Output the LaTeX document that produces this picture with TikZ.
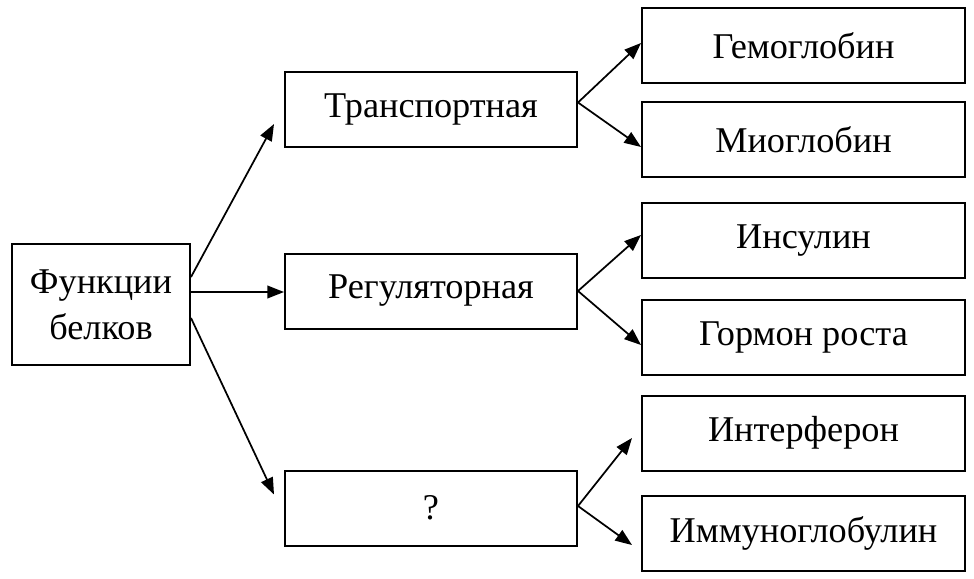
\documentclass[tikz,border=0pt]{standalone}
\usepackage{fontspec}
\setmainfont{Liberation Serif}
\usetikzlibrary{arrows.meta}
\begin{document}
\begin{tikzpicture}[x=0.75pt,y=-0.75pt,
  box/.style={draw,line width=1.5pt,rectangle,inner sep=0pt,font=\fontsize{27.2}{34.5}\selectfont},
  leftbox/.style={box,minimum width=133.5pt,minimum height=90.75pt,align=center},
  midbox/.style={box,minimum width=219pt,minimum height=56.25pt},
  rightbox/.style={box,minimum width=242.25pt,minimum height=56.25pt},
  arr/.style={line width=1.3pt,-{Triangle[length=12.5pt,width=9.5pt]}}]
\useasboundingbox (0,0) rectangle (974,578);
\node[leftbox] (L) at (101,304.5) {Функции\\белков};
\node[midbox] (T) at (431,109.5) {Транспортная};
\node[midbox] (R) at (431,291) {Регуляторная};
\node[midbox] (Q) at (431,508) {?};
\node[rightbox] (G) at (803.5,45.5) {Гемоглобин};
\node[rightbox] (M) at (803.5,139.5) {Миоглобин};
\node[rightbox] (I) at (803.5,240.5) {Инсулин};
\node[rightbox] (H) at (803.5,337) {Гормон роста};
\node[rightbox] (F) at (803.5,433) {Интерферон};
\node[rightbox] (U) at (803.5,533.5) {Иммуноглобулин};
\draw[arr] ([shift={(0,-27.5)}]L.east) -- ([shift={(-10,-24)}]T.south west);
\draw[arr] ([shift={(0,-12.5)}]L.east) -- ([shift={(0,1)}]R.west);
\draw[arr] ([shift={(0,13.5)}]L.east) -- ([shift={(-10,25)}]Q.north west);
\draw[arr] ([shift={(0,-7)}]T.east) -- ([shift={(0,-2.5)}]G.west);
\draw[arr] ([shift={(0,-7)}]T.east) -- ([shift={(0,7.5)}]M.west);
\draw[arr] (R.east) -- ([shift={(0,-5.5)}]I.west);
\draw[arr] (R.east) -- ([shift={(0,8)}]H.west);
\draw[arr] ([shift={(0,-2)}]Q.east) -- ([shift={(-9,5)}]F.west);
\draw[arr] ([shift={(0,-2)}]Q.east) -- ([shift={(-9,11.5)}]U.west);
\end{tikzpicture}
\end{document}
